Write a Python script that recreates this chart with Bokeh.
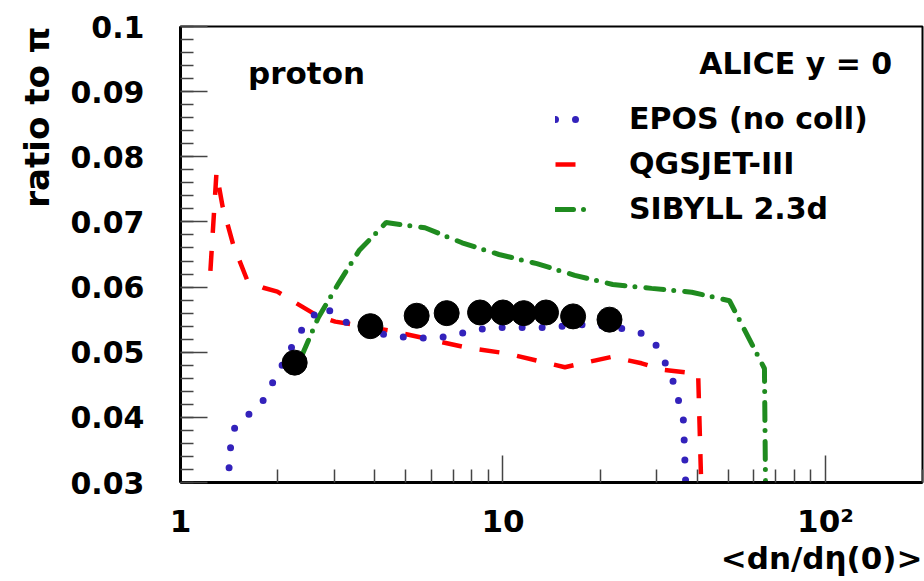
import math
from bokeh.plotting import figure
from bokeh.models import FixedTicker, Label, Legend, LegendItem, Range1d, Title
from bokeh.embed import file_html
from bokeh.resources import INLINE

# ---------------- data ----------------
epos_x = [1.40, 1.43, 1.47, 1.60, 1.79, 2.04, 2.32, 2.53, 2.77, 3.13, 3.48, 4.63,
          6.11, 7.05, 8.02, 9.25, 13.8, 18.6, 24.5, 28.1, 30.6, 34.1, 36.3, 36.9]
epos_y = [0.0292, 0.0354, 0.0383, 0.0401, 0.0423, 0.0475, 0.0527, 0.0552, 0.0570,
          0.0553, 0.0536, 0.0524, 0.0521, 0.0526, 0.0533, 0.0538, 0.0538, 0.0543,
          0.0535, 0.0526, 0.0504, 0.0449, 0.0395, 0.0292]

qgs_x = [1.238, 1.293, 1.349, 1.459, 1.612, 1.807, 1.997, 2.29, 2.66, 3.02, 4.47,
         7.74, 10.29, 15.56, 21.8, 26.9, 31.3, 40.3, 41.2]
qgs_y = [0.0625, 0.0776, 0.0725, 0.0664, 0.0610, 0.0599, 0.0593, 0.0575, 0.0556,
         0.0547, 0.0533, 0.0507, 0.0498, 0.0477, 0.0493, 0.0483, 0.0473, 0.0467, 0.0295]

sib_x = [2.37, 2.674, 3.085, 3.58, 4.34, 5.73, 7.47, 9.72, 12.74, 16.7, 21.9, 28.9,
         38.5, 50.4, 64.7, 65.2]
sib_y = [0.0493, 0.0553, 0.0605, 0.0656, 0.0699, 0.0691, 0.0668, 0.0650, 0.0636,
         0.0618, 0.0604, 0.0598, 0.0592, 0.0579, 0.0475, 0.0295]

alice_x = [2.26, 3.88, 5.40, 6.69, 8.49, 10.0, 11.6, 13.6, 16.5, 21.4]
alice_y = [0.0484, 0.0540, 0.0556, 0.0560, 0.0561, 0.0561, 0.0560, 0.0561, 0.0555, 0.0550]

series_names = ["EPOS (no coll)", "QGSJET-III", "SIBYLL 2.3d"]

x_ticks = [1, 10, 100]
x_tick_labels = ["1", "10", "10\u00b2"]
y_ticks = [0.03, 0.04, 0.05, 0.06, 0.07, 0.08, 0.09, 0.1]
y_tick_labels = ["0.03", "0.04", "0.05", "0.06", "0.07", "0.08", "0.09", "0.1"]

# ---------------- figure ----------------
FONT = "DejaVu Sans"

p = figure(width=924, height=581, x_axis_type="log",
           x_range=Range1d(1, 200), y_range=Range1d(0.03, 0.1),
           output_backend="svg", toolbar_location=None,
           min_border_left=180, min_border_right=2,
           min_border_top=26, min_border_bottom=99)
p.background_fill_color = "white"
p.border_fill_color = "white"
p.outline_line_color = "black"
p.outline_line_width = 2
p.xgrid.visible = False
p.ygrid.visible = False

x_minor = [m * 10 ** e for e in range(0, 3) for m in range(2, 10) if m * 10 ** e <= 200]
y_minor = [round(0.03 + 0.002 * i, 3) for i in range(36)]
p.xaxis.ticker = FixedTicker(ticks=x_ticks, minor_ticks=x_minor)
p.yaxis.ticker = FixedTicker(ticks=y_ticks, minor_ticks=y_minor)
p.xaxis.major_label_overrides = {t: s for t, s in zip(x_ticks, x_tick_labels)}
p.yaxis.major_label_overrides = {t: s for t, s in zip(y_ticks, y_tick_labels)}

for ax in (p.xaxis[0], p.yaxis[0]):
    ax.axis_line_color = "black"
    ax.axis_line_width = 3
    ax.major_tick_in = 27
    ax.major_tick_out = 0
    ax.minor_tick_in = 13
    ax.minor_tick_out = 0
    ax.major_tick_line_color = "#444444"
    ax.minor_tick_line_color = "#444444"
    ax.major_tick_line_width = 1.5
    ax.minor_tick_line_width = 1.5
    ax.major_label_text_font = FONT
    ax.major_label_text_font_style = "bold"
    ax.major_label_text_color = "black"

p.yaxis.major_label_text_font_size = "30px"
p.yaxis.major_label_standoff = 36
p.xaxis.major_label_text_font_size = "31px"
p.xaxis.major_label_standoff = 20

# ---------------- axis titles (ROOT style: right / top aligned) ----------------
p.add_layout(Title(text="<dn/d\u03b7(0)>", align="right", text_font=FONT,
                   text_font_style="bold", text_font_size="31px", text_color="black",
                   standoff=-7), "below")
p.add_layout(Title(text="ratio to \u03c0", align="right", text_font=FONT,
                   text_font_style="bold", text_font_size="34px", text_color="black",
                   standoff=22), "left")

# ---------------- curves ----------------
r_q = p.line(qgs_x, qgs_y, line_color="#ff0000", line_width=4.5, line_dash="20 18")
r_s = p.line(sib_x, sib_y, line_color="#1f8b1f", line_width=5, line_dash="18 10 0 11",
             line_cap="round")
r_e = p.line(epos_x, epos_y, line_color="#3322bb", line_width=7, line_dash="0 20",
             line_cap="round")
p.scatter(alice_x, alice_y, size=25, marker="circle", fill_color="black", line_color="black")

legend = Legend(items=[LegendItem(label=series_names[0], renderers=[r_e]),
                       LegendItem(label=series_names[1], renderers=[r_q]),
                       LegendItem(label=series_names[2], renderers=[r_s])],
                location=(375, 251), glyph_width=36, glyph_height=20,
                label_standoff=38, label_height=45, spacing=0, padding=0, margin=0,
                border_line_alpha=0, background_fill_alpha=0,
                label_text_font=FONT, label_text_font_style="bold",
                label_text_font_size="30px", label_text_color="black")
p.add_layout(legend)

# ---------------- texts inside the frame ----------------
p.add_layout(Label(x=1.62, y=0.0928, text="proton", text_font=FONT, text_font_style="bold",
                   text_font_size="31px", text_color="black",
                   text_align="left", text_baseline="alphabetic"))
p.add_layout(Label(x=161, y=0.0943, text="ALICE y = 0", text_font=FONT, text_font_style="bold",
                   text_font_size="30px", text_color="black",
                   text_align="right", text_baseline="alphabetic"))

open("out.html", "w").write(file_html(p, INLINE))
